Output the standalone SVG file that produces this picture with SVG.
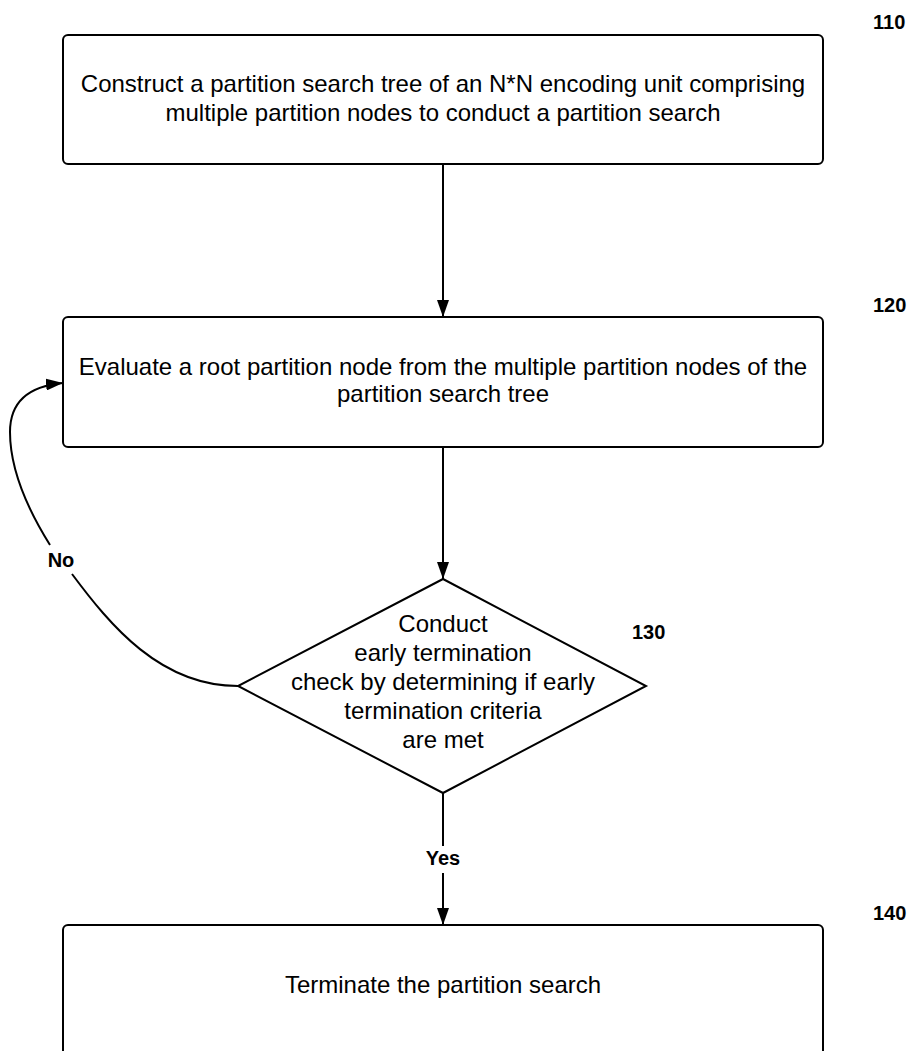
<svg xmlns="http://www.w3.org/2000/svg" width="913" height="1051" viewBox="0 0 913 1051">
<style>
.box{fill:#fff;stroke:#000;stroke-width:2}
.t{font-family:"Liberation Sans",Arial,sans-serif;font-size:24px;fill:#000;text-anchor:middle}
.lbl{font-family:"Liberation Sans",Arial,sans-serif;font-size:20px;font-weight:bold;fill:#000}
.c{fill:none;stroke:#000;stroke-width:2}
</style>
<defs>
<marker id="ah" viewBox="0 0 17 12" refX="17" refY="6" markerWidth="17" markerHeight="12" markerUnits="userSpaceOnUse" orient="auto">
<path d="M0,0 L17,6 L0,12 z" fill="#000"/>
</marker>
</defs>
<rect width="913" height="1051" fill="#fff"/>
<g id="connectors">
<line class="c" x1="443" y1="164" x2="443" y2="317" marker-end="url(#ah)"/>
<line class="c" x1="443" y1="447" x2="443" y2="579" marker-end="url(#ah)"/>
<line class="c" x1="443" y1="793" x2="443" y2="846"/>
<line class="c" x1="443" y1="873" x2="443" y2="925" marker-end="url(#ah)"/>
<path class="c" d="M238,686 C160,686 110,625 72,574"/>
<path class="c" d="M50,545 C25,505 10,465 10,432 C10,400 30,386 63,383" marker-end="url(#ah)"/>
<text class="lbl" x="61" y="567" text-anchor="middle">No</text>
<text class="lbl" x="443" y="865" text-anchor="middle">Yes</text>
</g>
<g id="n110">
<rect class="box" x="63" y="35" width="760" height="129" rx="5"/>
<text class="t" x="443" y="92">Construct a partition search tree of an N*N encoding unit comprising</text>
<text class="t" x="443" y="121">multiple partition nodes to conduct a partition search</text>
<text class="lbl" x="873" y="29">110</text>
</g>
<g id="n120">
<rect class="box" x="63" y="317" width="760" height="130" rx="5"/>
<text class="t" x="443" y="375">Evaluate a root partition node from the multiple partition nodes of the</text>
<text class="t" x="443" y="402">partition search tree</text>
<text class="lbl" x="873" y="312">120</text>
</g>
<g id="n130">
<polygon class="box" points="443,579 646,686 443,793 238,686"/>
<text class="t" x="443" y="632">Conduct</text>
<text class="t" x="443" y="661">early termination</text>
<text class="t" x="443" y="690">check by determining if early</text>
<text class="t" x="443" y="719">termination criteria</text>
<text class="t" x="443" y="748">are met</text>
<text class="lbl" x="632" y="639">130</text>
</g>
<g id="n140">
<rect class="box" x="63" y="925" width="760" height="140" rx="5"/>
<text class="t" x="443" y="993">Terminate the partition search</text>
<text class="lbl" x="873" y="920">140</text>
</g>
</svg>
